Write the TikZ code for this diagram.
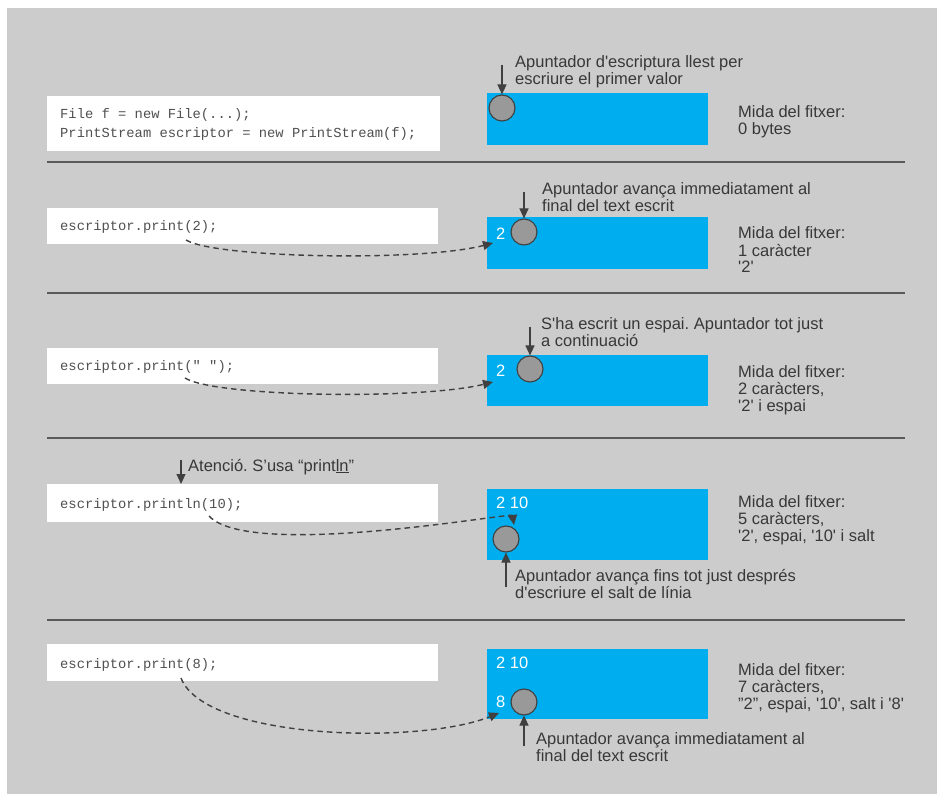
\documentclass[tikz,border=0pt]{standalone}
\usepackage{fontspec}
\setmainfont{Liberation Sans}[Ligatures=TeXOff]
\setmonofont{Liberation Mono}[Ligatures=TeXOff]
\usetikzlibrary{arrows.meta}
\frenchspacing
\definecolor{bg}{HTML}{CCCCCC}
\definecolor{fileblue}{HTML}{00ADEE}
\definecolor{ptrgrey}{HTML}{999999}
\definecolor{dk}{HTML}{404040}
\definecolor{sepc}{HTML}{5A5A5A}
\definecolor{txt}{HTML}{383838}
\definecolor{codetxt}{HTML}{505050}
\begin{document}
\begin{tikzpicture}[x=1pt,y=-1pt,
  lab/.style={anchor=base west, inner sep=0, align=left, text=txt, font=\frenchspacing\fontsize{16.5}{17}\selectfont},
  codetext/.style={anchor=base west, inner sep=0, align=left, text=codetxt, font=\ttfamily\fontsize{13.8}{19}\selectfont},
  codebox/.style={fill=white, anchor=north west, inner sep=0},
  filebox/.style={fill=fileblue, anchor=north west, inner sep=0},
  ptr/.style={circle, fill=ptrgrey, draw=dk, line width=1.1pt, minimum size=26pt, inner sep=0},
  inb/.style={anchor=base west, inner sep=0, text=white, font=\fontsize{16.5}{17}\selectfont},
  parrow/.style={draw=dk, line width=1.1pt, -{Triangle[length=10pt,width=9pt]}, fill=dk},
  darrow/.style={draw=dk, line width=1.4pt, dash pattern=on 5.5pt off 4pt, -{Triangle[length=10pt,width=9pt]}},
  sepline/.style={draw=sepc, line width=2pt}
]
\useasboundingbox (0,0) rectangle (937,794);
\fill[white] (0,0) rectangle (937,794);
\fill[bg] (7,8) rectangle (937,794);

% separators
\draw[sepline] (47,162) -- (905,162);
\draw[sepline] (47,293) -- (905,293);
\draw[sepline] (47,438) -- (905,438);
\draw[sepline] (47,620) -- (905,620);

% ---------- panel 1
\node[codebox, minimum width=393pt, minimum height=55pt] (cb1) at (47,96) {};
\node[codetext] (ct1) at (60,138) {File f = new File(...);\\PrintStream escriptor = new PrintStream(f);};
\node[filebox, minimum width=221pt, minimum height=52pt] (fb1) at (487,93) {};
\node[ptr] (p1) at (502,108) {};
\coordinate (a1) at (502,65);
\draw[parrow] (a1) -- (p1.north);
\node[lab] (l1) at (515,85) {Apuntador d'escriptura llest per\\escriure el primer valor};
\node[lab] (m1) at (738,135) {Mida del fitxer:\\0 bytes};

% ---------- panel 2
\node[codebox, minimum width=391pt, minimum height=36pt] (cb2) at (47,208) {};
\node[codetext] (ct2) at (60,231) {escriptor.print(2);};
\node[filebox, minimum width=221pt, minimum height=52pt] (fb2) at (487,217) {};
\node[inb] (v2) at (496,240) {2};
\node[ptr] (p2) at (524,232) {};
\coordinate (a2) at (524,192);
\draw[parrow] (a2) -- (p2.north);
\node[lab] (l2) at (542,212) {Apuntador avança immediatament al\\final del text escrit};
\node[lab] (m2) at (738,273) {Mida del fitxer:\\1 caràcter\\'2'};
\coordinate (d2s) at (186,240);
\coordinate (d2e) at (493,243);
\draw[darrow] (d2s) .. controls (215,258) and (420,262) .. (d2e);

% ---------- panel 3
\node[codebox, minimum width=391pt, minimum height=36pt] (cb3) at (47,348) {};
\node[codetext] (ct3) at (60,370) {escriptor.print(" ");};
\node[filebox, minimum width=221pt, minimum height=51pt] (fb3) at (487,355) {};
\node[inb] (v3) at (496,376) {2};
\node[ptr] (p3) at (530,369) {};
\coordinate (a3) at (530,327);
\draw[parrow] (a3) -- (p3.north);
\node[lab] (l3) at (541,346) {S'ha escrit un espai. Apuntador tot just\\a continuació};
\node[lab] (m3) at (738,411) {Mida del fitxer:\\2 caràcters,\\'2' i espai};
\coordinate (d3s) at (185,378);
\coordinate (d3e) at (493,382);
\draw[darrow] (d3s) .. controls (215,397) and (420,400) .. (d3e);

% ---------- panel 4
\node[codebox, minimum width=391pt, minimum height=38pt] (cb4) at (47,484) {};
\node[codetext] (ct4) at (60,508) {escriptor.println(10);};
\coordinate (a4t) at (181,460);
\draw[parrow] (a4t) -- (a4t |- cb4.north);
\node[lab] (l4t) at (188,471) {Atenció. S’usa “print\underline{ln}”};
\node[filebox, minimum width=221pt, minimum height=71pt] (fb4) at (487,489) {};
\node[inb] (v4) at (496,508) {2 10};
\node[ptr] (p4) at (506,539) {};
\coordinate (a4) at (506,587);
\draw[parrow] (a4) -- (p4.south);
\node[lab] (l4) at (515,598) {Apuntador avança fins tot just després\\d'escriure el salt de línia};
\node[lab] (m4) at (738,541) {Mida del fitxer:\\5 caràcters,\\'2', espai, '10' i salt};
\coordinate (d4s) at (209,516);
\coordinate (d4e) at (514,525);
\draw[darrow] (d4s) .. controls (250,560) and (512,512) .. (d4e);

% ---------- panel 5
\node[codebox, minimum width=391pt, minimum height=37pt] (cb5) at (47,644) {};
\node[codetext] (ct5) at (60,668) {escriptor.print(8);};
\node[filebox, minimum width=221pt, minimum height=70pt] (fb5) at (487,649) {};
\node[inb] (v5a) at (496,668) {2 10};
\node[inb] (v5b) at (496,707) {8};
\node[ptr] (p5) at (524,702) {};
\coordinate (a5) at (524,746);
\draw[parrow] (a5) -- (p5.south);
\node[lab] (l5) at (536,761) {Apuntador avança immediatament al\\final del text escrit};
\node[lab] (m5) at (738,709) {Mida del fitxer:\\7 caràcters,\\”2”, espai, '10', salt i '8'};
\coordinate (d5s) at (181,678);
\coordinate (d5e) at (499,713);
\draw[darrow] (d5s) .. controls (205,740) and (420,745) .. (d5e);
\end{tikzpicture}
\end{document}
